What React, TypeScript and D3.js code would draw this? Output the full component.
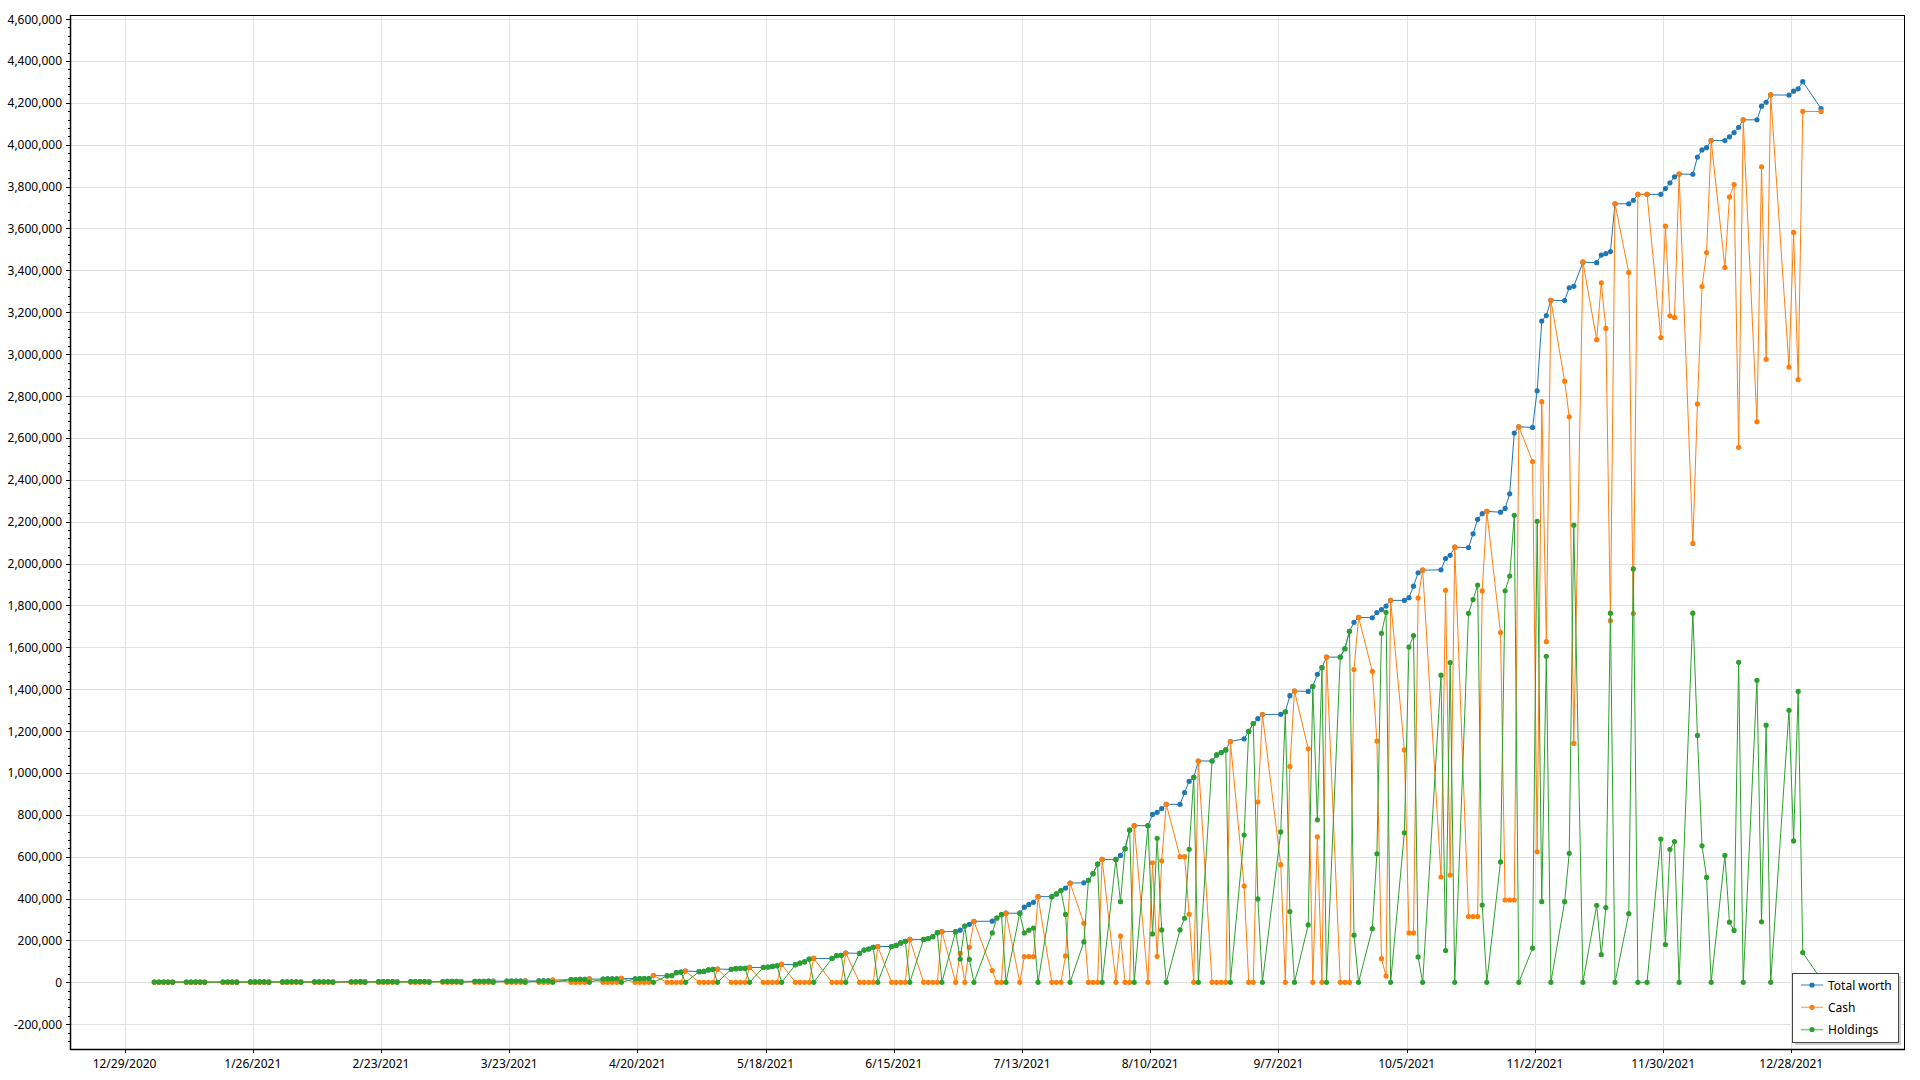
import React from 'react';
import * as d3 from 'd3';

// trading days, one line per week
const dates: string[] = [
  '2021-01-04', '2021-01-05', '2021-01-06', '2021-01-07', '2021-01-08',
  '2021-01-11', '2021-01-12', '2021-01-13', '2021-01-14', '2021-01-15',
  '2021-01-19', '2021-01-20', '2021-01-21', '2021-01-22',
  '2021-01-25', '2021-01-26', '2021-01-27', '2021-01-28', '2021-01-29',
  '2021-02-01', '2021-02-02', '2021-02-03', '2021-02-04', '2021-02-05',
  '2021-02-08', '2021-02-09', '2021-02-10', '2021-02-11', '2021-02-12',
  '2021-02-16', '2021-02-17', '2021-02-18', '2021-02-19',
  '2021-02-22', '2021-02-23', '2021-02-24', '2021-02-25', '2021-02-26',
  '2021-03-01', '2021-03-02', '2021-03-03', '2021-03-04', '2021-03-05',
  '2021-03-08', '2021-03-09', '2021-03-10', '2021-03-11', '2021-03-12',
  '2021-03-15', '2021-03-16', '2021-03-17', '2021-03-18', '2021-03-19',
  '2021-03-22', '2021-03-23', '2021-03-24', '2021-03-25', '2021-03-26',
  '2021-03-29', '2021-03-30', '2021-03-31', '2021-04-01',
  '2021-04-05', '2021-04-06', '2021-04-07', '2021-04-08', '2021-04-09',
  '2021-04-12', '2021-04-13', '2021-04-14', '2021-04-15', '2021-04-16',
  '2021-04-19', '2021-04-20', '2021-04-21', '2021-04-22', '2021-04-23',
  '2021-04-26', '2021-04-27', '2021-04-28', '2021-04-29', '2021-04-30',
  '2021-05-03', '2021-05-04', '2021-05-05', '2021-05-06', '2021-05-07',
  '2021-05-10', '2021-05-11', '2021-05-12', '2021-05-13', '2021-05-14',
  '2021-05-17', '2021-05-18', '2021-05-19', '2021-05-20', '2021-05-21',
  '2021-05-24', '2021-05-25', '2021-05-26', '2021-05-27', '2021-05-28',
  '2021-06-01', '2021-06-02', '2021-06-03', '2021-06-04',
  '2021-06-07', '2021-06-08', '2021-06-09', '2021-06-10', '2021-06-11',
  '2021-06-14', '2021-06-15', '2021-06-16', '2021-06-17', '2021-06-18',
  '2021-06-21', '2021-06-22', '2021-06-23', '2021-06-24', '2021-06-25',
  '2021-06-28', '2021-06-29', '2021-06-30', '2021-07-01', '2021-07-02',
  '2021-07-06', '2021-07-07', '2021-07-08', '2021-07-09',
  '2021-07-12', '2021-07-13', '2021-07-14', '2021-07-15', '2021-07-16',
  '2021-07-19', '2021-07-20', '2021-07-21', '2021-07-22', '2021-07-23',
  '2021-07-26', '2021-07-27', '2021-07-28', '2021-07-29', '2021-07-30',
  '2021-08-02', '2021-08-03', '2021-08-04', '2021-08-05', '2021-08-06',
  '2021-08-09', '2021-08-10', '2021-08-11', '2021-08-12', '2021-08-13',
  '2021-08-16', '2021-08-17', '2021-08-18', '2021-08-19', '2021-08-20',
  '2021-08-23', '2021-08-24', '2021-08-25', '2021-08-26', '2021-08-27',
  '2021-08-30', '2021-08-31', '2021-09-01', '2021-09-02', '2021-09-03',
  '2021-09-07', '2021-09-08', '2021-09-09', '2021-09-10',
  '2021-09-13', '2021-09-14', '2021-09-15', '2021-09-16', '2021-09-17',
  '2021-09-20', '2021-09-21', '2021-09-22', '2021-09-23', '2021-09-24',
  '2021-09-27', '2021-09-28', '2021-09-29', '2021-09-30', '2021-10-01',
  '2021-10-04', '2021-10-05', '2021-10-06', '2021-10-07', '2021-10-08',
  '2021-10-12', '2021-10-13', '2021-10-14', '2021-10-15',
  '2021-10-18', '2021-10-19', '2021-10-20', '2021-10-21', '2021-10-22',
  '2021-10-25', '2021-10-26', '2021-10-27', '2021-10-28', '2021-10-29',
  '2021-11-01', '2021-11-02', '2021-11-03', '2021-11-04', '2021-11-05',
  '2021-11-08', '2021-11-09', '2021-11-10', '2021-11-12',
  '2021-11-15', '2021-11-16', '2021-11-17', '2021-11-18', '2021-11-19',
  '2021-11-22', '2021-11-23', '2021-11-24', '2021-11-26',
  '2021-11-29', '2021-11-30', '2021-12-01', '2021-12-02', '2021-12-03',
  '2021-12-06', '2021-12-07', '2021-12-08', '2021-12-09', '2021-12-10',
  '2021-12-13', '2021-12-14', '2021-12-15', '2021-12-16', '2021-12-17',
  '2021-12-20', '2021-12-21', '2021-12-22', '2021-12-23',
  '2021-12-27', '2021-12-28', '2021-12-29', '2021-12-30',
  '2022-01-03',
];

// values in thousands
const totalWorth: number[] = [
  1.0, 1.0, 1.1, 1.1, 1.2,
  1.2, 1.3, 1.3, 1.3, 1.4,
  1.4, 1.5, 1.5, 1.6,
  1.6, 1.7, 1.7, 1.8, 1.9,
  1.9, 2.0, 2.1, 2.1, 2.2,
  2.2, 2.3, 2.4, 2.5, 2.6,
  2.6, 2.7, 2.8, 2.9,
  2.9, 3.0, 3.1, 3.2, 3.4,
  3.4, 3.5, 3.6, 3.8, 3.9,
  3.9, 4.1, 4.2, 4.4, 4.6,
  4.6, 4.8, 5.0, 5.2, 5.4,
  5.4, 5.6, 5.9, 6.1, 6.4,
  6.4, 7.0, 7.5, 10,
  13, 13.5, 14, 14, 16,
  15, 16, 16, 17, 19,
  17, 17.5, 18, 18, 32,
  31, 32, 46, 49, 54,
  51, 52, 59, 62, 63,
  62, 65, 67, 67, 71,
  71, 73, 76, 79, 86,
  84, 92, 98, 111, 114,
  114, 127, 129, 140,
  138, 154, 159, 167, 171,
  171, 176, 188, 196, 205,
  205, 209, 218, 237, 242,
  242, 249, 269, 277, 291,
  292, 307, 323, 330,
  330, 359, 372, 382, 409,
  409, 422, 438, 450, 474,
  475, 487, 519, 565, 587,
  587, 606, 638, 727, 748,
  748, 802, 812, 830, 850,
  850, 906, 960, 979, 1057,
  1057, 1086, 1097, 1110, 1150,
  1163, 1198, 1236, 1259, 1279,
  1280, 1292, 1369, 1391,
  1389, 1413, 1471, 1503, 1553,
  1553, 1593, 1676, 1719, 1743,
  1741, 1766, 1780, 1797, 1824,
  1824, 1837, 1892, 1956, 1968,
  1970, 2024, 2039, 2078,
  2076, 2142, 2211, 2238, 2249,
  2245, 2263, 2333, 2623, 2653,
  2650, 2825, 3158, 3184, 3257,
  3256, 3317, 3324, 3439,
  3437, 3473, 3480, 3490, 3718,
  3718, 3735, 3763, 3763,
  3763, 3791, 3818, 3847, 3860,
  3859, 3941, 3975, 3986, 4020,
  4020, 4038, 4058, 4083, 4119,
  4119, 4184, 4203, 4238,
  4237, 4256, 4267, 4301,
  4173,
];

const cash: number[] = [
  0, 0, 0, 0, 1.2,
  0, 0, 0, 0, 1.4,
  0, 0, 0, 1.6,
  0, 0, 0, 0, 1.9,
  0, 0, 0, 0, 2.2,
  0, 0, 0, 0, 2.6,
  0, 0, 0, 2.9,
  0, 0, 0, 0, 3.4,
  0, 0, 0, 0, 3.9,
  0, 0, 0, 0, 4.6,
  0, 0, 0, 0, 5.4,
  0, 0, 0, 0, 6.4,
  0, 0, 0, 10,
  0, 0, 0, 0, 16,
  0, 0, 0, 0, 19,
  0, 0, 0, 0, 32,
  0, 0, 0, 0, 54,
  0, 0, 0, 0, 63,
  0, 0, 0, 0, 71,
  0, 0, 0, 0, 86,
  0, 0, 0, 0, 114,
  0, 0, 0, 140,
  0, 0, 0, 0, 171,
  0, 0, 0, 0, 205,
  0, 0, 0, 0, 242,
  0, 138, 0, 167, 291,
  56, 0, 0, 330,
  0, 123, 123, 123, 409,
  0, 0, 0, 126, 474,
  282, 0, 0, 0, 587,
  0, 221, 0, 0, 748,
  0, 571, 124, 580, 850,
  600, 600, 325, 0, 1057,
  0, 0, 0, 0, 1150,
  460, 0, 0, 861, 1279,
  562, 0, 1031, 1391,
  1115, 0, 695, 0, 1553,
  0, 0, 0, 1494, 1743,
  1485, 1152, 113, 30, 1824,
  1110, 236, 236, 1835, 1968,
  503, 1872, 512, 2078,
  314, 314, 314, 1869, 2249,
  1670, 393, 393, 393, 2653,
  2487, 623, 2773, 1627, 3257,
  2871, 2701, 1141, 3439,
  3069, 3341, 3123, 1727, 3718,
  3390, 1761, 3763, 3763,
  3079, 3611, 3183, 3175, 3860,
  2096, 2762, 3323, 3485, 4020,
  3414, 3751, 3810, 2555, 4119,
  2677, 3895, 2975, 4238,
  2938, 3581, 2878, 4159,
  4159,
];

const holdings: number[] = [
  1.0, 1.0, 1.1, 1.1, 0,
  1.2, 1.3, 1.3, 1.3, 0,
  1.4, 1.5, 1.5, 0,
  1.6, 1.7, 1.7, 1.8, 0,
  1.9, 2.0, 2.1, 2.1, 0,
  2.2, 2.3, 2.4, 2.5, 0,
  2.6, 2.7, 2.8, 0,
  2.9, 3.0, 3.1, 3.2, 0,
  3.4, 3.5, 3.6, 3.8, 0,
  3.9, 4.1, 4.2, 4.4, 0,
  4.6, 4.8, 5.0, 5.2, 0,
  5.4, 5.6, 5.9, 6.1, 0,
  6.4, 7.0, 7.5, 0,
  13, 13.5, 14, 14, 0,
  15, 16, 16, 17, 0,
  17, 17.5, 18, 18, 0,
  31, 32, 46, 49, 0,
  51, 52, 59, 62, 0,
  62, 65, 67, 67, 0,
  71, 73, 76, 79, 0,
  84, 92, 98, 111, 0,
  114, 127, 129, 0,
  138, 154, 159, 167, 0,
  171, 176, 188, 196, 0,
  205, 209, 218, 237, 0,
  242, 111, 269, 110, 0,
  236, 307, 323, 0,
  330, 236, 249, 259, 0,
  409, 422, 438, 324, 0,
  193, 487, 519, 565, 0,
  587, 385, 638, 727, 0,
  748, 231, 688, 250, 0,
  250, 306, 635, 979, 0,
  1057, 1086, 1097, 1110, 0,
  703, 1198, 1236, 398, 0,
  718, 1292, 338, 0,
  274, 1413, 776, 1503, 0,
  1553, 1593, 1676, 225, 0,
  256, 614, 1667, 1767, 0,
  714, 1601, 1656, 121, 0,
  1467, 152, 1527, 0,
  1762, 1828, 1897, 369, 0,
  575, 1870, 1940, 2230, 0,
  163, 2202, 385, 1557, 0,
  385, 616, 2183, 0,
  368, 132, 357, 1763, 0,
  328, 1974, 0, 0,
  684, 180, 635, 672, 0,
  1763, 1179, 652, 501, 0,
  606, 287, 248, 1528, 0,
  1442, 289, 1228, 0,
  1299, 675, 1389, 142,
  14,
];

const xTickDates = [
  '2020-12-29', '2021-01-26', '2021-02-23', '2021-03-23', '2021-04-20', '2021-05-18', '2021-06-15',
  '2021-07-13', '2021-08-10', '2021-09-07', '2021-10-05', '2021-11-02', '2021-11-30', '2021-12-28',
];

const seriesNames = ['Total worth', 'Cash', 'Holdings'];
const seriesColors = ['#1f77b4', '#ff7f0e', '#2ca02c'];

const parse = d3.timeParse('%Y-%m-%d');
const fmtDate = d3.timeFormat('%-m/%-d/%Y');
const fmtNum = d3.format(',');

const W = 1920;
const H = 1080;
const plot = { left: 70, top: 15, right: 1905, bottom: 1049 };

const App: React.FC = () => {
  const x = d3.scaleTime()
    .domain([new Date(2020, 11, 17, 2), new Date(2022, 0, 21, 20)])
    .range([plot.left, plot.right]);
  const y = d3.scaleLinear()
    .domain([-318500, 4619600])
    .range([plot.bottom, plot.top]);

  // samples are stamped at midday
  const days = dates.map(d => d3.timeHour.offset(parse(d) as Date, 12));
  const series = [totalWorth, cash, holdings].map(vals =>
    vals.map((v, i) => ({ date: days[i], value: v * 1000 }))
  );

  const line = d3.line<{ date: Date, value: number }>()
    .x(d => x(d.date))
    .y(d => y(d.value));

  const yMajor = d3.range(-200000, 4600001, 200000);
  const yMinor = d3.range(-280000, 4600001, 40000).filter(v => v % 200000 !== 0);
  const xTicks = xTickDates.map(d => parse(d) as Date);

  const font = '"Noto Sans", "Open Sans", sans-serif';
  const legend = { x: 1792, y: 973, w: 106, h: 69 };

  return (
    <svg width={W} height={H} style={{ position: 'absolute', left: 0, top: 0, background: '#fff' }}
      fontFamily={font} fontSize={12}>
      <rect x={0} y={0} width={W} height={H} fill="#fff" />
      {/* grid */}
      {xTicks.map((t, i) => (
        <line key={'gx' + i} x1={Math.round(x(t)) + 0.5} x2={Math.round(x(t)) + 0.5}
          y1={plot.top} y2={plot.bottom} stroke="#e2e2e2" />
      ))}
      {yMajor.map(v => (
        <line key={'gy' + v} x1={plot.left} x2={plot.right}
          y1={Math.round(y(v)) + 0.5} y2={Math.round(y(v)) + 0.5} stroke="#e2e2e2" />
      ))}

      {/* series */}
      {series.map((s, i) => (
        <g key={'s' + i}>
          <path d={line(s) || ''} fill="none" stroke={seriesColors[i]} strokeWidth={1} />
          {s.map((p, j) => (
            <circle key={j} cx={x(p.date)} cy={y(p.value)} r={2.6} fill={seriesColors[i]} />
          ))}
        </g>
      ))}

      {/* frame */}
      <rect x={plot.left + 0.5} y={plot.top + 0.5} width={plot.right - plot.left - 1}
        height={plot.bottom - plot.top} fill="none" stroke="#000" strokeWidth={1} />
      <line x1={plot.left + 0.5} x2={plot.left + 0.5} y1={plot.top} y2={plot.bottom + 1} stroke="#000" strokeWidth={1.5} />
      <line x1={plot.left} x2={plot.right} y1={plot.bottom + 0.5} y2={plot.bottom + 0.5} stroke="#000" strokeWidth={1.5} />

      {/* y axis */}
      {yMajor.map(v => (
        <g key={'ty' + v}>
          <line x1={plot.left - 4} x2={plot.left} y1={Math.round(y(v)) + 0.5} y2={Math.round(y(v)) + 0.5} stroke="#000" />
          <text x={plot.left - 8} y={y(v)} textAnchor="end" dominantBaseline="central" fill="#000">
            {fmtNum(v).replace('\u2212', '-')}
          </text>
        </g>
      ))}
      {yMinor.map(v => (
        <line key={'my' + v} x1={plot.left - 2} x2={plot.left} y1={Math.round(y(v)) + 0.5} y2={Math.round(y(v)) + 0.5} stroke="#000" />
      ))}

      {/* x axis */}
      {xTicks.map((t, i) => (
        <g key={'tx' + i}>
          <line x1={Math.round(x(t)) + 0.5} x2={Math.round(x(t)) + 0.5} y1={plot.bottom} y2={plot.bottom + 4} stroke="#000" />
          <text x={x(t)} y={plot.bottom + 14} textAnchor="middle" dominantBaseline="central" fill="#000">
            {fmtDate(t)}
          </text>
        </g>
      ))}

      {/* legend */}
      <rect x={legend.x + 3} y={legend.y + 3} width={legend.w} height={legend.h} fill="#cfcfcf" />
      <rect x={legend.x + 0.5} y={legend.y + 0.5} width={legend.w} height={legend.h} fill="#fff" stroke="#444" />
      {seriesNames.map((name, i) => {
        const cy = legend.y + 12 + i * 22.3;
        return (
          <g key={'lg' + i}>
            <line x1={legend.x + 9} x2={legend.x + 31} y1={cy} y2={cy} stroke={seriesColors[i]} strokeOpacity={0.6} strokeWidth={1.5} />
            <circle cx={legend.x + 20} cy={cy} r={2.6} fill={seriesColors[i]} />
            <text x={legend.x + 36} y={cy} dominantBaseline="central" fill="#000">{name}</text>
          </g>
        );
      })}
    </svg>
  );
};

export default App;
